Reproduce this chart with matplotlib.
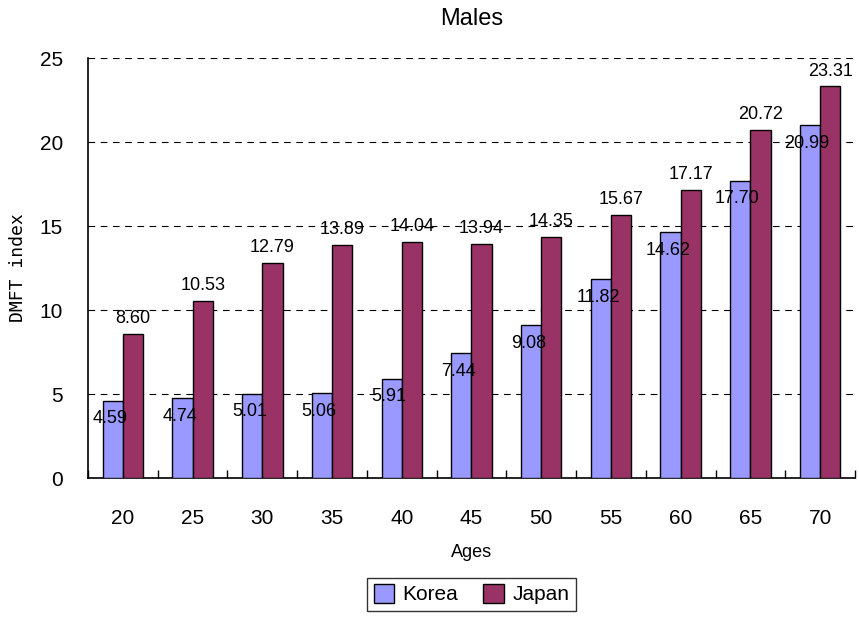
import numpy as np
import matplotlib.pyplot as plt
from matplotlib.ticker import FixedLocator

ages = ["20", "25", "30", "35", "40", "45", "50", "55", "60", "65", "70"]
korea = [4.59, 4.74, 5.01, 5.06, 5.91, 7.44, 9.08, 11.82, 14.62, 17.70, 20.99]
japan = [8.60, 10.53, 12.79, 13.89, 14.04, 13.94, 14.35, 15.67, 17.17, 20.72, 23.31]

korea_color = "#9999ff"
japan_color = "#993366"

plt.rcParams["font.family"] = ["Liberation Sans", "DejaVu Sans"]

fig = plt.figure(figsize=(8.59, 6.23), dpi=100)
ax = fig.add_axes([0.1024, 0.2327, 0.8929, 0.6742])

x = np.arange(len(ages))
w = 0.29
ax.bar(x - w / 2, korea, w, color=korea_color, edgecolor="black", lw=1.0,
       label="Korea", zorder=3)
ax.bar(x + w / 2, japan, w, color=japan_color, edgecolor="black", lw=1.0,
       label="Japan", zorder=3)

for xi, v in zip(x, korea):
    ax.annotate(f"{v:.2f}", (xi - w / 2, v), xytext=(-2, -13),
                textcoords="offset points", ha="center", va="center",
                fontsize=13, zorder=4)
for xi, v in zip(x, japan):
    ax.annotate(f"{v:.2f}", (xi + w / 2, v), xytext=(0, 11),
                textcoords="offset points", ha="center", va="center",
                fontsize=13, zorder=4)

ax.set_xlim(-0.5, len(ages) - 0.5)
ax.set_ylim(0, 25)
ax.set_yticks(np.arange(0, 26, 5))
ax.set_xticks(x)
ax.set_xticklabels(ages)
ax.xaxis.set_minor_locator(FixedLocator(np.arange(-0.5, len(ages), 1.0)))
ax.tick_params(axis="x", which="major", length=0, labelsize=15, pad=22)
ax.tick_params(axis="x", which="minor", direction="in", length=6, width=1)
ax.tick_params(axis="y", length=0, labelsize=15, pad=18)

ax.yaxis.grid(True, linestyle=(0, (6, 5)), color="black", lw=0.8, zorder=0)
ax.spines["top"].set_visible(False)
ax.spines["right"].set_visible(False)
ax.spines["left"].set_linewidth(1.2)
ax.spines["bottom"].set_linewidth(1.2)

ax.set_title("Males", fontsize=17, pad=24)
ax.set_xlabel("Ages", fontsize=13, labelpad=12)
ax.set_ylabel("DMFT index", fontsize=13, labelpad=9,
              family=["DejaVu Sans Mono"])

fig.legend(loc="lower center", bbox_to_anchor=(0.549, 0.003), ncol=2,
           frameon=True, fancybox=False, edgecolor="black", fontsize=15,
           handlelength=1.0, handleheight=1.0, handletextpad=0.4,
           columnspacing=1.2, borderpad=0.3)

fig.savefig("out.png", dpi=100)
